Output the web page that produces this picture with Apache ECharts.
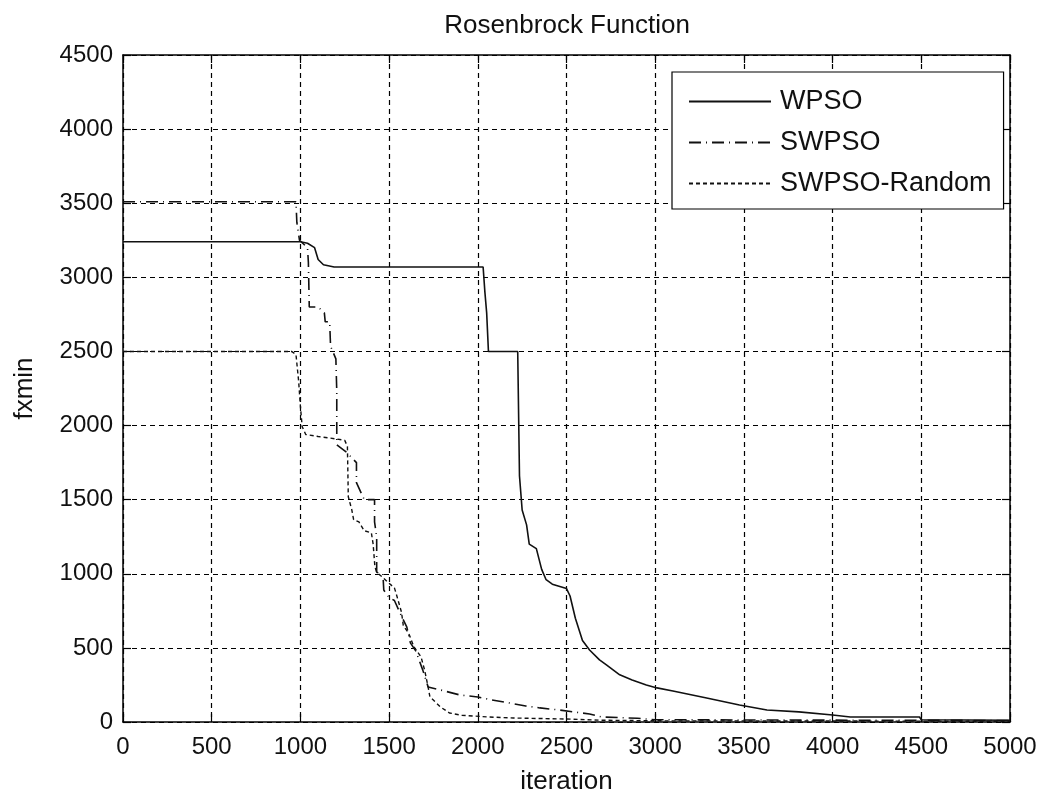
<!DOCTYPE html>
<html>
<head>
<meta charset="utf-8">
<script src="https://cdn.jsdelivr.net/npm/echarts@6/dist/echarts.min.js"></script>
<style>html,body{margin:0;padding:0;background:#fff}#c{width:1047px;height:803px}</style>
</head>
<body>
<div id="c"></div>
<script>
const title = 'Rosenbrock Function';
const xName = 'iteration';
const yName = 'fxmin';
const seriesNames = ['WPSO', 'SWPSO', 'SWPSO-Random'];

const wpso = [[0,3240],[1000,3240],[1040,3230],[1080,3200],[1100,3120],[1130,3085],[1190,3070],[2030,3070],[2040,2900],[2050,2760],[2060,2500],[2225,2500],[2235,1660],[2250,1430],[2275,1330],[2290,1200],[2330,1170],[2360,1030],[2385,960],[2420,930],[2500,900],[2520,850],[2550,700],[2590,550],[2630,486],[2686,419],[2725,385],[2800,318],[2870,284],[2950,250],[3010,230],[3100,209],[3290,162],[3475,115],[3630,81],[3810,68],[4000,47],[4100,34],[4490,34],[4500,15],[5000,12]];

const swpso = [[0,3510],[975,3510],[980,3370],[995,3250],[1040,3200],[1045,3100],[1050,2800],[1100,2800],[1135,2760],[1140,2700],[1165,2700],[1170,2535],[1200,2450],[1205,2230],[1205,1870],[1260,1820],[1316,1750],[1316,1615],[1360,1500],[1418,1500],[1418,1350],[1430,1250],[1430,1010],[1465,1000],[1470,890],[1500,840],[1530,820],[1560,740],[1600,640],[1620,534],[1650,480],[1690,350],[1720,236],[1790,216],[1900,182],[2000,169],[2080,149],[2180,128],[2270,108],[2350,95],[2460,81],[2630,54],[2700,34],[2900,25],[3000,15],[5000,10]];

const swpsoRandom = [[0,2500],[950,2500],[975,2480],[990,2300],[1000,2130],[1010,1993],[1030,1940],[1100,1926],[1200,1910],[1250,1900],[1265,1860],[1270,1520],[1290,1430],[1300,1365],[1330,1350],[1360,1290],[1400,1277],[1410,1200],[1420,1047],[1430,1010],[1460,980],[1490,946],[1530,905],[1545,845],[1570,740],[1580,650],[1610,600],[1640,507],[1680,439],[1700,351],[1720,236],[1730,170],[1790,101],[1840,61],[1910,45],[2060,34],[2200,27],[2500,20],[2700,12],[3000,8],[5000,5]];

const FONT = "'Liberation Sans', Arial, sans-serif";
const chart = echarts.init(document.getElementById('c'), null, {renderer: 'canvas'});

const baseX = {type: 'value', min: 0, max: 5000, interval: 500};
const baseY = {type: 'value', min: 0, max: 4500, interval: 500};
const axisLine = {show: true, onZero: false, lineStyle: {color: '#000', width: 1.5}};
const axisTick = {show: true, inside: true, length: 8, lineStyle: {color: '#000', width: 1.2}};
const split = {show: true, lineStyle: {color: '#000', width: 1.2, type: [5, 4]}};
const plain = v => String(v);

chart.setOption({
  animation: false,
  backgroundColor: '#fff',
  textStyle: {fontFamily: FONT, color: '#000'},
  title: {
    text: title, left: 562, top: 8, textAlign: 'center',
    textStyle: {fontFamily: FONT, fontSize: 26, fontWeight: 'normal', color: '#111'}
  },
  grid: {left: 123, right: 37, top: 55, bottom: 81, containLabel: false},
  legend: {
    orient: 'vertical', left: 672, top: 72,
    padding: [16, 12, 12, 16],
    itemGap: 14,
    itemWidth: 82, itemHeight: 16,
    itemStyle: {opacity: 0, color: 'rgba(0,0,0,0)', borderWidth: 0},
    backgroundColor: '#fff',
    borderColor: '#000', borderWidth: 1.2,
    textStyle: {fontFamily: FONT, fontSize: 27, color: '#111', padding: [0, 0, 0, 4]},
    data: seriesNames
  },
  xAxis: [
    Object.assign({}, baseX, {
      position: 'bottom',
      name: xName, nameLocation: 'middle', nameGap: 47,
      nameTextStyle: {fontFamily: FONT, fontSize: 26, color: '#111'},
      axisLine: axisLine, axisTick: axisTick, splitLine: split,
      axisLabel: {fontFamily: FONT, fontSize: 24, color: '#111', margin: 13, formatter: plain}
    }),
    Object.assign({}, baseX, {
      position: 'top',
      axisLine: axisLine, axisTick: axisTick, splitLine: {show: false},
      axisLabel: {show: false}
    })
  ],
  yAxis: [
    Object.assign({}, baseY, {
      position: 'left',
      name: yName, nameLocation: 'middle', nameGap: 85,
      nameTextStyle: {fontFamily: FONT, fontSize: 26, color: '#111'},
      axisLine: axisLine, axisTick: axisTick, splitLine: split,
      axisLabel: {fontFamily: FONT, fontSize: 24, color: '#111', margin: 10, formatter: plain}
    }),
    Object.assign({}, baseY, {
      position: 'right',
      axisLine: axisLine, axisTick: axisTick, splitLine: {show: false},
      axisLabel: {show: false}
    })
  ],
  series: [
    {
      name: seriesNames[0], type: 'line', data: wpso, symbol: 'none',
      xAxisIndex: 0, yAxisIndex: 0,
      lineStyle: {color: '#111', width: 1.6, type: 'solid'},
      itemStyle: {color: '#111'}, z: 5
    },
    {
      name: seriesNames[1], type: 'line', data: swpso, symbol: 'none',
      xAxisIndex: 0, yAxisIndex: 0,
      lineStyle: {color: '#111', width: 1.6, type: [12, 5, 1, 5]},
      itemStyle: {color: '#111'}, z: 4
    },
    {
      name: seriesNames[2], type: 'line', data: swpsoRandom, symbol: 'none',
      xAxisIndex: 0, yAxisIndex: 0,
      lineStyle: {color: '#111', width: 1.4, type: [4, 3]},
      itemStyle: {color: '#111'}, z: 3
    }
  ]
});
</script>
</body>
</html>
